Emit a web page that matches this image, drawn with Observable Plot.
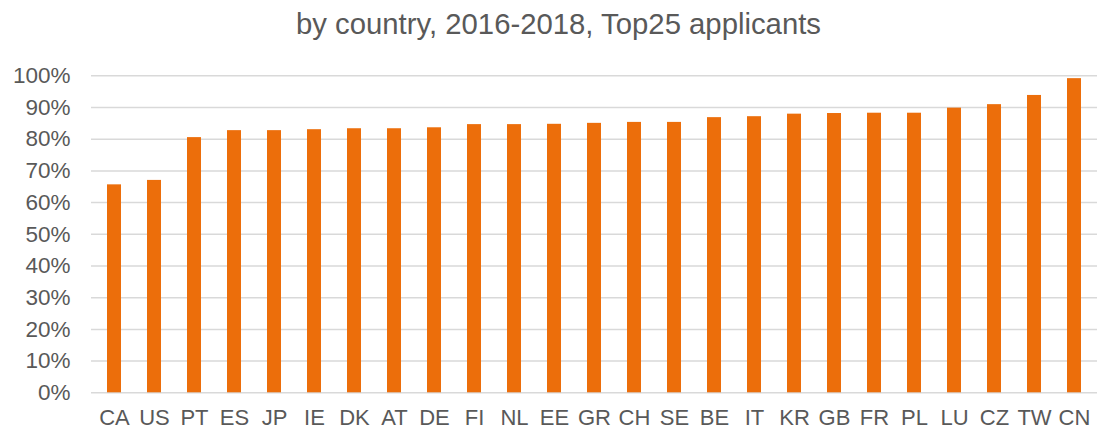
<!DOCTYPE html>
<html>
<head>
<meta charset="utf-8">
<script src="https://cdn.jsdelivr.net/npm/d3@7"></script>
<script src="https://cdn.jsdelivr.net/npm/@observablehq/plot@0.6"></script>
<style>
  html, body { margin: 0; padding: 0; background: #fff; overflow: hidden; }
  #title {
    height: 40px; box-sizing: border-box; padding-top: 9px; padding-left: 18px;
    text-align: center; font-family: "Liberation Sans", Arial, sans-serif;
    font-size: 29.3px; line-height: 1; color: #595959; white-space: nowrap;
  }
  #chart svg { overflow: visible; display: block; }
</style>
</head>
<body>
<div id="title">by country, 2016-2018, Top25 applicants</div>
<div id="chart"></div>
<script>
const countries = ["CA","US","PT","ES","JP","IE","DK","AT","DE","FI","NL","EE","GR","CH","SE","BE","IT","KR","GB","FR","PL","LU","CZ","TW","CN"];
const shares = [65.6, 67.0, 80.5, 82.7, 82.7, 83.0, 83.3, 83.3, 83.6, 84.6, 84.6, 84.7, 85.0, 85.3, 85.3, 86.8, 87.1, 87.9, 88.1, 88.2, 88.2, 89.8, 90.9, 93.8, 99.1];
const yTicks = [0, 10, 20, 30, 40, 50, 60, 70, 80, 90, 100];

const data = countries.map((c, i) => ({country: c, share: shares[i]}));

const chart = Plot.plot({
  width: 1099,
  height: 390,
  marginTop: 35.3,
  marginBottom: 37.7,
  marginLeft: 91,
  marginRight: 2,
  style: {fontFamily: "'Liberation Sans', Arial, sans-serif", fontSize: "22.5px", color: "#595959", background: "#fff"},
  x: {domain: countries, paddingInner: 0.645, paddingOuter: 0.3225, label: null},
  y: {domain: [0, 100], label: null},
  marks: [
    Plot.gridY(yTicks, {stroke: "#d9d9d9", strokeOpacity: 1, strokeWidth: 1.5}),
    Plot.barY(data, {x: "country", y: "share", fill: "#EC6E0B"}),
    Plot.axisY(yTicks, {tickSize: 0, tickPadding: 21, tickFormat: d => d + "%", fontSize: 22.5, label: null}),
    Plot.axisX({tickSize: 0, tickPadding: 17, fontSize: 22, label: null})
  ]
});
document.getElementById("chart").appendChild(chart);
</script>
</body>
</html>
